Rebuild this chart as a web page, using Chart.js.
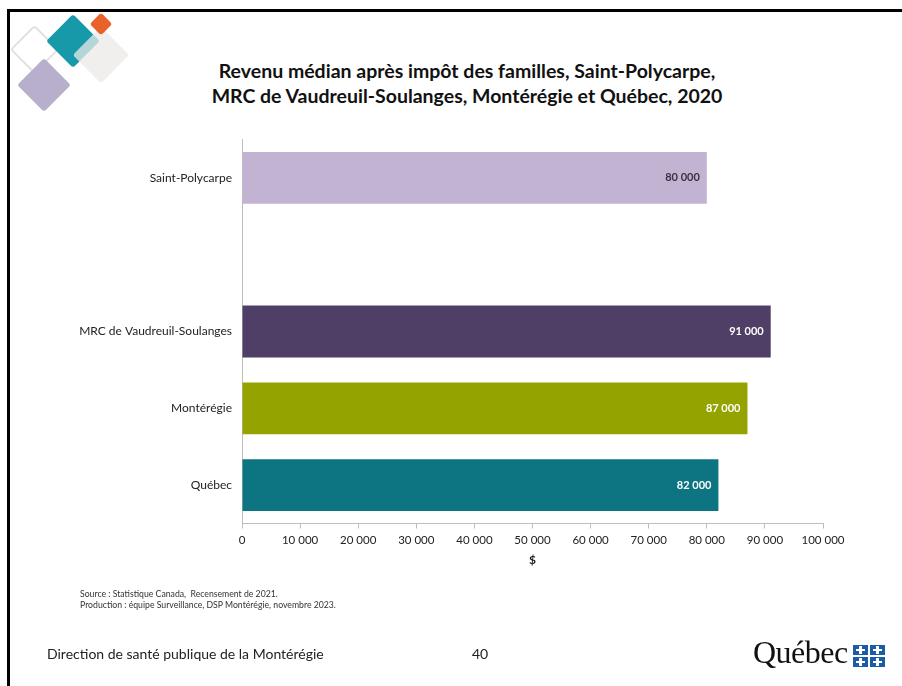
<!DOCTYPE html>
<html>
<head>
<meta charset="utf-8">
<script src="https://cdn.jsdelivr.net/npm/chart.js@4"></script>
<style>
  body { margin: 0; background: #fff; font-family: Lato, "Open Sans", sans-serif; }
  #page { position: relative; width: 902px; height: 686px; overflow: hidden; }
  #frame { position: absolute; left: 7px; top: 9px; right: -10px; bottom: -10px;
           border-top: 3px solid #000; border-left: 3px solid #000; }
  .dia { position: absolute; transform: rotate(45deg); border-radius: 3px; }
  #title { position: absolute; left: 0; width: 934px; top: 58px; text-align: center;
           font-weight: bold; font-size: 19.5px; line-height: 25px; color: #111; }
  #source { position: absolute; left: 80px; top: 588px; font-size: 8.7px; line-height: 11px; color: #333; }
  #footer { position: absolute; left: 47px; top: 645px; font-size: 14px; color: #222; }
  #pagenum { position: absolute; left: 472px; top: 645px; font-size: 14px; color: #222; }
  #logo { position: absolute; left: 753px; top: 634px; font-family: "Liberation Serif", "DejaVu Serif", serif;
          font-size: 32px; color: #111; letter-spacing: -0.5px; }
  .fl { position: absolute; width: 15px; height: 10px; background: #1d5aa8; }
  .fl::before { content: ""; position: absolute; left: 6px; top: 1px; width: 3px; height: 8px; background: #fff; }
  .fl::after { content: ""; position: absolute; left: 3px; top: 4px; width: 9px; height: 2px; background: #fff; }
  #wrap { position: absolute; left: 0; top: 0; width: 902px; height: 686px; }
</style>
</head>
<body>
<div id="page">
  <div id="frame"></div>
  <div class="dia" style="left:17px;top:32px;width:31px;height:31px;border:2px solid #dfe3dc;border-radius:4px;"></div>
  <div class="dia" style="left:25px;top:66px;width:38px;height:38px;background:#b7afcb;"></div>
  <div class="dia" style="left:54px;top:22px;width:38px;height:38px;background:#1799a9;"></div>
  <div class="dia" style="left:81px;top:35px;width:40px;height:40px;background:rgba(236,233,231,0.75);"></div>
  <div class="dia" style="left:93px;top:16px;width:16px;height:16px;background:#e8622a;"></div>

  <div id="title">Revenu médian après impôt des familles, Saint-Polycarpe,<br>MRC de Vaudreuil-Soulanges, Montérégie et Québec, 2020</div>

  <div id="wrap"><canvas id="myChart"></canvas></div>

  <div id="source">Source : Statistique Canada,&nbsp; Recensement de 2021.<br>Production : équipe Surveillance, DSP Montérégie, novembre 2023.</div>
  <div id="footer">Direction de santé publique de la Montérégie</div>
  <div id="pagenum">40</div>
  <div id="logo">Québec</div>
  <div class="fl" style="left:853px;top:645px;"></div>
  <div class="fl" style="left:870px;top:645px;"></div>
  <div class="fl" style="left:853px;top:657px;"></div>
  <div class="fl" style="left:870px;top:657px;"></div>
</div>

<script>
const categories = ['Saint-Polycarpe', '', 'MRC de Vaudreuil-Soulanges', 'Montérégie', 'Québec'];
const values = [80000, null, 91000, 87000, 82000];
const barColors = ['#c3b3d3', '#ffffff', '#4f3f66', '#95a300', '#0d7482'];
const labelColors = ['#3a3040', '#ffffff', '#ffffff', '#ffffff', '#ffffff'];

function fmt(v) {
    return String(v).replace(/\B(?=(\d{3})+(?!\d))/g, ' ');
}

// value labels inside the end of each bar
const barLabels = {
    id: 'barLabels',
    afterDatasetsDraw(chart) {
        const ctx = chart.ctx;
        const meta = chart.getDatasetMeta(0);
        meta.data.forEach((bar, i) => {
            if (values[i] == null) return;
            ctx.save();
            ctx.font = 'bold 11px Lato';
            ctx.fillStyle = labelColors[i];
            ctx.textAlign = 'right';
            ctx.textBaseline = 'middle';
            ctx.fillText(fmt(values[i]), bar.x - 7, bar.y);
            ctx.restore();
        });
    }
};

const ctx = document.getElementById('myChart').getContext('2d');
const myChart = new Chart(ctx, {
    type: 'bar',
    data: {
        labels: categories,
        datasets: [{
            data: values,
            backgroundColor: barColors,
            borderWidth: 0,
            categoryPercentage: 1,
            barPercentage: 0.675
        }]
    },
    options: {
        indexAxis: 'y',
        responsive: true,
        maintainAspectRatio: false,
        animation: false,
        layout: {
            padding: { left: 0, right: 79, top: 139.5, bottom: 119 }
        },
        plugins: {
            legend: { display: false },
            tooltip: { enabled: false }
        },
        scales: {
            x: {
                min: 0,
                max: 100000,
                ticks: {
                    stepSize: 10000,
                    color: '#222',
                    padding: 5,
                    maxRotation: 0,
                    font: { family: 'Lato', size: 11.5 },
                    callback: v => fmt(v)
                },
                grid: {
                    drawOnChartArea: false,
                    drawTicks: true,
                    tickLength: 5,
                    color: '#bdbdbd'
                },
                border: { color: '#bdbdbd' },
                title: {
                    display: true,
                    text: '$',
                    color: '#222',
                    font: { family: 'Lato', size: 12, weight: 'bold' },
                    padding: { top: 4, bottom: 0 }
                },
                afterFit: s => { s.height = 686 - 523.5 - 119; }
            },
            y: {
                ticks: {
                    color: '#222',
                    padding: 10,
                    font: { family: 'Lato', size: 12 }
                },
                grid: { drawOnChartArea: false, drawTicks: false },
                border: { color: '#bdbdbd' },
                afterFit: s => { s.width = 242; }
            }
        }
    },
    plugins: [barLabels]
});
</script>
</body>
</html>
